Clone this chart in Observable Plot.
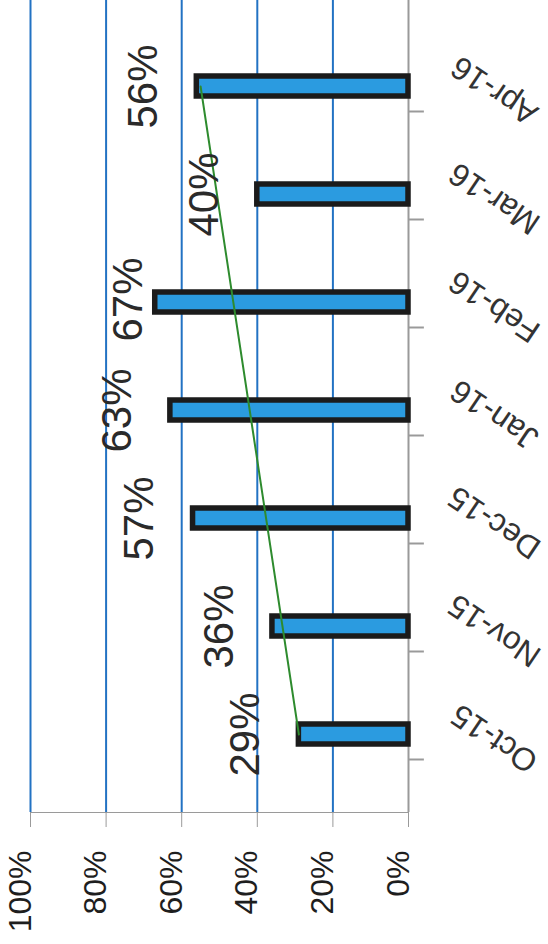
<!DOCTYPE html>
<html>
<head>
<meta charset="utf-8">
<script src="https://cdn.jsdelivr.net/npm/d3@7"></script>
<script src="https://cdn.jsdelivr.net/npm/@observablehq/plot@0.6"></script>
<style>
  html, body { margin: 0; padding: 0; background: #fff; }
  #chart svg { display: block; }
</style>
</head>
<body>
<div id="chart"></div>
<script>
// ---- data ----
const months = ["Oct-15", "Nov-15", "Dec-15", "Jan-16", "Feb-16", "Mar-16", "Apr-16"];
const values = [29, 36, 57, 63, 67, 40, 56];
const trendMonths = ["Oct-15", "Apr-16"];
const trendValues = [29, 55];
const valueTicks = [0, 20, 40, 60, 80, 100];
const gridTicks = [20, 40, 60, 80, 100];

const data = months.map((m, i) => ({month: m, value: values[i]}));
const trend = trendMonths.map((m, i) => ({month: m, value: trendValues[i]}));

const font = "'Liberation Sans', Arial, sans-serif";

const chart = Plot.plot({
  width: 548,
  height: 944,
  marginTop: 0,
  marginLeft: 30,
  marginRight: 140,
  marginBottom: 132,
  style: {fontFamily: font, fontSize: "34px", color: "#9a9a9a", background: "#fff"},
  x: {
    domain: [0, 100],
    reverse: true,
    ticks: valueTicks,
    tickFormat: () => "",
    tickSize: 15,
    line: true,
    label: null
  },
  y: {
    type: "band",
    domain: [...months].reverse(),
    range: [29, 790],
    padding: 0,
    axis: null
  },
  marks: [
    Plot.ruleX(gridTicks, {stroke: "#2272c3", strokeWidth: 2}),
    Plot.ruleX([0], {stroke: "#9a9a9a", strokeWidth: 2}),
    Plot.ruleY(months, {y: d => d, x1: 0, x2: -4.2, dy: 25, stroke: "#9a9a9a", strokeWidth: 2}),
    Plot.barX(data, {
      x: "value", y: "month",
      fill: "#2b9be0", stroke: "#1b1b1b", strokeWidth: 5.5,
      insetTop: 44, insetBottom: 44
    }),
    Plot.line(trend, {x: "value", y: "month", stroke: "#2e8b2e", strokeWidth: 2}),
    Plot.text(data.filter(d => d.month !== "Feb-16"), {
      x: "value", y: "month", text: d => d.value + "%",
      rotate: -90, dx: -53, fontSize: 42, fontFamily: font,
      fill: "#2a2a2a", textAnchor: "middle"
    }),
    Plot.text(data.filter(d => d.month === "Feb-16"), {
      x: "value", y: "month", text: d => d.value + "%",
      rotate: -90, dx: -27, dy: -3, fontSize: 42, fontFamily: font,
      fill: "#2a2a2a", textAnchor: "middle"
    }),
    Plot.text(valueTicks, {
      x: d => d, text: d => d + "%", frameAnchor: "bottom",
      dy: 38, dx: 0, rotate: -90, textAnchor: "end",
      fontSize: 32, fontFamily: font, fill: "#1e1e1e"
    }),
    Plot.text(months, {
      y: d => d, text: d => d, frameAnchor: "right",
      dx: 86, dy: 4, rotate: -146, fontSize: 32, fontFamily: font,
      fill: "#333", textAnchor: "middle"
    })
  ]
});
document.getElementById("chart").appendChild(chart);
</script>
</body>
</html>
